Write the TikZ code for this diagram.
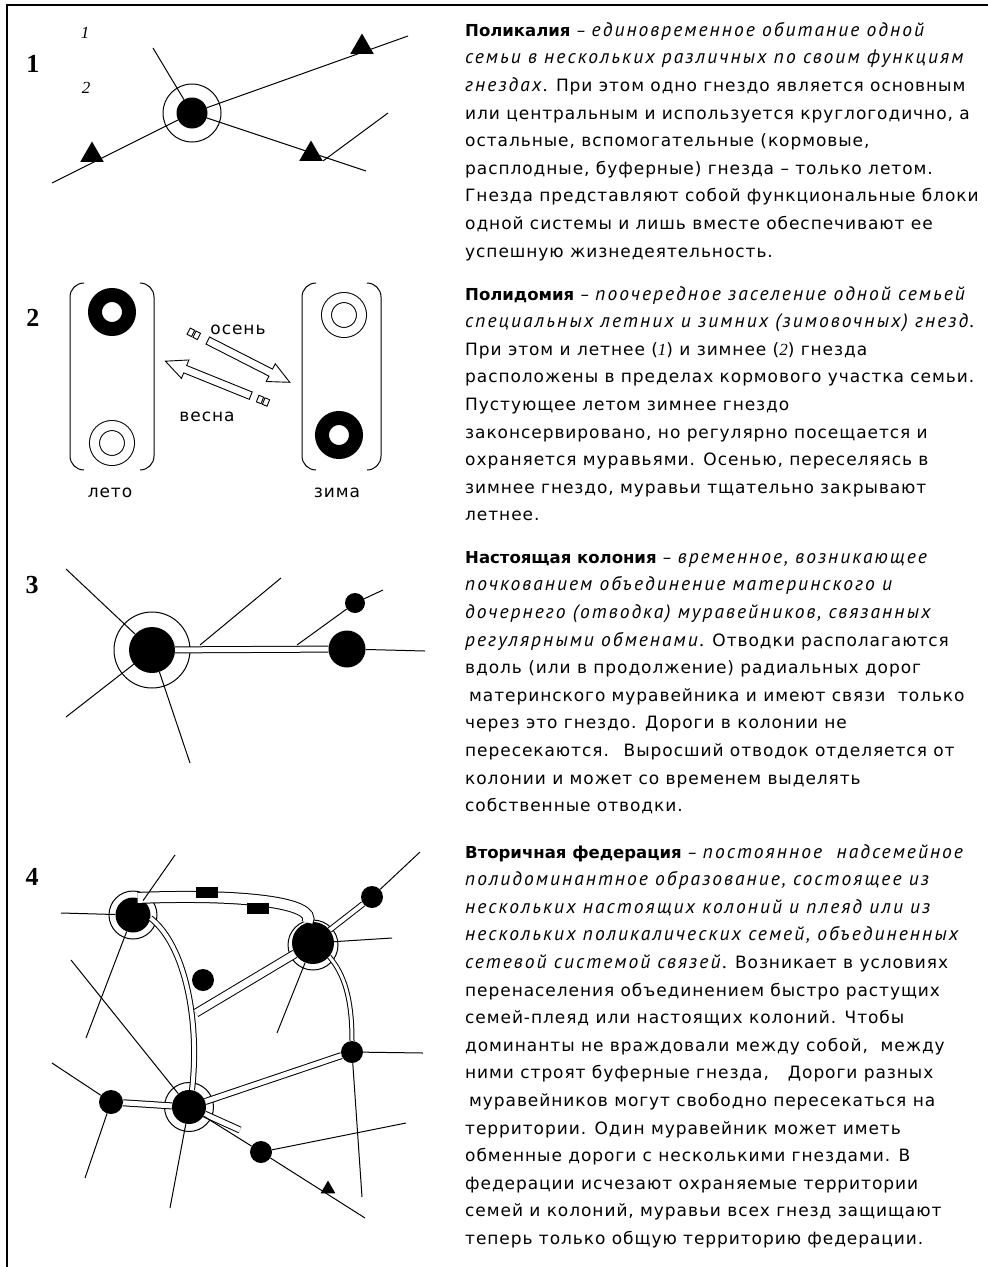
\documentclass[tikz,border=0pt]{standalone}
\usepackage{fontspec}
\usepackage{tikz}
\usetikzlibrary{shapes.geometric, shapes.arrows}
\setmainfont{DejaVu Sans}[LetterSpace=5.5]
\newfontfamily\termfont{DejaVu Sans}
\newfontfamily\cursfont{PT Sans}[LetterSpace=10.5]
\newfontfamily\numfont{Liberation Serif}
\newcommand\term[1]{{\termfont\bfseries\fontsize{16.5}{27.6}\selectfont #1}}
\newcommand\defn[1]{{\cursfont\itshape\fontsize{19.5}{27.6}\selectfont #1}}
\newcommand\num[1]{{\numfont\itshape #1}}

\tikzset{
  nest/.style={circle, fill=black, inner sep=0pt, minimum size=#1},
  ring/.style={circle, draw, line width=1pt, inner sep=0pt, minimum size=#1},
  road/.style={double, double distance=#1, line width=1pt},
  way/.style={line width=1pt},
  tri/.style={regular polygon, regular polygon sides=3, fill=black, inner sep=0pt, minimum size=#1},
  buffer/.style={rectangle, fill=black, inner sep=0pt, minimum width=22pt, minimum height=11pt},
  blackring/.style={circle, draw, line width=14pt, inner sep=0pt, minimum size=34pt},
  twinring/.style={circle, draw, double, double distance=9pt, line width=1pt, inner sep=0pt, minimum size=35pt},
  move/.style={single arrow, draw, line width=0.9pt, inner sep=3.5pt, single arrow head extend=6pt,
    single arrow tip angle=50, minimum height=92pt},
  stub/.style={rectangle, draw, line width=0.9pt, inner sep=0pt, minimum width=5pt, minimum height=7pt},
  para/.style={anchor=north west, align=left, inner sep=0pt, font=\fontsize{17}{27.6}\selectfont},
  panel/.style={font=\numfont\bfseries\fontsize{26}{26}\selectfont},
  word/.style={font=\fontsize{17}{20}\selectfont},
}

\begin{document}
\begin{tikzpicture}[x=1pt, y=-1pt]
  \useasboundingbox (0,0) rectangle (988,1267);
  \draw[line width=2pt] (988,5) -- (7,5) -- (7,1267);

  %Polycaly
  \node[panel] (n1) at (33,64) {1};
  \node[font=\numfont\itshape\fontsize{17}{17}\selectfont] (i1) at (85,33) {1};
  \node[font=\numfont\itshape\fontsize{17}{17}\selectfont] (i2) at (86,88) {2};
  \node[ring=58pt] (home1r) at (192,113) {};
  \node[nest=31pt] (home1) at (192,113) {};
  \coordinate (e1a) at (153,48);
  \coordinate (e1b) at (408,36);
  \coordinate (e1c) at (52,183);
  \coordinate (e1d) at (366,171);
  \coordinate (e1e) at (388,113);
  \draw[way]
    (e1a) edge (home1)
    (e1b) edge (home1)
    (e1c) edge (home1)
    (e1d) edge (home1);
  \node[tri=27pt] (t1) at (362,47) {};
  \node[tri=27pt] (t2) at (92,155) {};
  \node[tri=27pt] (t3) at (311,154) {};
  \draw[way] (t3.corner 3) -- (e1e);

  %Polydomy
  \node[panel] (n2) at (33,318) {2};
  \draw[way, rounded corners=14pt] (84,283) -- (70,283) -- (70,470) -- (84,470);
  \draw[way, rounded corners=14pt] (140,283) -- (154,283) -- (154,470) -- (140,470);
  \draw[way, rounded corners=14pt] (316,283) -- (302,283) -- (302,470) -- (316,470);
  \draw[way, rounded corners=14pt] (367,283) -- (381,283) -- (381,470) -- (367,470);
  \node[blackring] (summer) at (112,312) {};
  \node[twinring] (summer2) at (112,443) {};
  \node[twinring] (winter2) at (344,315) {};
  \node[blackring] (winter) at (339,435) {};
  \node[word] (leto) at (110,493) {лето};
  \node[word] (zima) at (337,493) {зима};
  \node[move, rotate=-27] (autumn) at (245,359.5) {};
  \node[stub, rotate=-27] at (196.7,335.3) {};
  \node[stub, rotate=-27] at (190.9,332.3) {};
  \node[move, rotate=158] (spring) at (212,380) {};
  \node[stub, rotate=158] at (260,399.5) {};
  \node[stub, rotate=158] at (266,402) {};
  \node[word] (osen) at (238,330) {осень};
  \node[word] (vesna) at (207,417) {весна};

  %Colony
  \node[panel] (n3) at (32,585) {3};
  \node[ring=76pt] (home3r) at (152,650) {};
  \node[nest=46pt] (home3) at (152,650) {};
  \node[nest=37pt] (bud3) at (347,649) {};
  \node[nest=20pt] (small3) at (355,603) {};
  \draw[road=5pt] (home3) -- (bud3);
  \coordinate (r3a) at (200,645);
  \coordinate (r3b) at (297,645);
  \coordinate (e3a) at (66,569);
  \coordinate (e3b) at (66,717);
  \coordinate (e3c) at (190,763);
  \coordinate (e3d) at (281,578);
  \coordinate (e3e) at (383,590);
  \coordinate (e3f) at (425,651);
  \draw[way]
    (e3a) edge (home3)
    (e3b) edge (home3)
    (e3c) edge (home3)
    (e3d) edge (r3a)
    (r3b) edge (small3)
    (small3) edge (e3e)
    (bud3) edge (e3f);

  %Federation
  \node[panel] (n4) at (32,877) {4};
  \node[ring=48pt] (Ar) at (133,915) {};
  \node[nest=35pt] (A) at (133,915) {};
  \node[ring=50pt] (Br) at (313,945) {};
  \node[nest=42pt] (B) at (313,943) {};
  \node[ring=49pt] (Cr) at (189,1107) {};
  \node[nest=34pt] (C) at (189,1107) {};
  \node[nest=22pt] (D) at (372,897) {};
  \node[nest=22pt] (E) at (203,980) {};
  \node[nest=22pt] (F) at (352,1052) {};
  \node[nest=24pt] (G) at (111,1102) {};
  \node[nest=22pt] (H) at (261,1152) {};
  \coordinate (j4) at (196,1013);
  \coordinate (q4) at (240,1130);

  \draw[road=10pt] (A.75) .. controls (240,894) and (318,902) .. (B.105);
  \draw[road=4pt] (A.-10) .. controls (185,945) and (200,1020) .. (C.80);
  \draw[road=7pt] (B) -- (j4);
  \draw[road=3pt] (B.-40) .. controls (345,975) and (352,1000) .. (F);
  \draw[road=4pt] (B) -- (D);
  \draw[road=5pt] (C) -- (F);
  \draw[road=5pt] (G) -- (C);
  \draw[road=5pt] (C) -- (q4);
  \node[buffer] (R1) at (207,892) {};
  \node[buffer] (R2) at (258,908) {};

  \coordinate (e4a) at (61,913);
  \coordinate (e4b) at (175,855);
  \coordinate (e4c) at (86,1038);
  \coordinate (e4d) at (71,960);
  \coordinate (e4e) at (392,938);
  \coordinate (e4f) at (277,1033);
  \coordinate (e4g) at (52,1063);
  \coordinate (e4h) at (85,1178);
  \coordinate (e4i) at (170,1208);
  \coordinate (e4j) at (423,1053);
  \coordinate (e4k) at (362,1197);
  \coordinate (e4l) at (406,1123);
  \coordinate (e4m) at (365,1218);
  \coordinate (e4n) at (420,852);
  \draw[way]
    (e4a) edge (A)
    (e4b) edge (A)
    (A) edge (e4c)
    (e4d) edge (C)
    (B) edge (e4e)
    (B) edge (e4f)
    (D) edge (e4n)
    (e4g) edge (G)
    (G) edge (e4h)
    (C) edge (e4i)
    (F) edge (e4j)
    (F) edge (e4k)
    (H) edge (e4l)
    (C) edge (H)
    (H) edge (e4m);
  \node[tri=17pt] (t4) at (328,1189) {};

  % texts
  \node[para] (p1) at (465,22) {\term{Поликалия} – \defn{единовременное обитание одной}\\
    \defn{семьи в нескольких различных по своим функциям}\\
    \defn{гнездах.} При этом одно гнездо является основным\\
    или центральным и используется круглогодично, а\\
    остальные, вспомогательные (кормовые,\\
    расплодные, буферные) гнезда – только летом.\\
    Гнезда представляют собой функциональные блоки\\
    одной системы и лишь вместе обеспечивают ее\\
    успешную жизнедеятельность.};
  \node[para] (p2) at (465,286) {\term{Полидомия} – \defn{поочередное заселение одной семьей}\\
    \defn{специальных летних и зимних (зимовочных) гнезд.}\\
    При этом и летнее (\num{1})  и зимнее (\num{2}) гнезда\\
    расположены в пределах кормового участка семьи.\\
    Пустующее летом зимнее гнездо\\
    законсервировано, но регулярно посещается и\\
    охраняется муравьями. Осенью, переселяясь в\\
    зимнее гнездо, муравьи тщательно закрывают\\
    летнее.};
  \node[para] (p3) at (465,551) {\term{Настоящая колония} – \defn{временное, возникающее}\\
    \defn{почкованием объединение материнского и}\\
    \defn{дочернего (отводка) муравейников, связанных}\\
    \defn{регулярными обменами.} Отводки располагаются\\
    вдоль (или в продолжение) радиальных дорог\\
    \hspace{4pt}материнского муравейника и имеют связи \ только\\
    через это гнездо. Дороги в колонии не\\
    пересекаются. \ Выросший отводок отделяется от\\
    колонии и может со временем выделять\\
    собственные отводки.};
  \node[para] (p4) at (465,844) {\term{Вторичная федерация} – \defn{постоянное \ надсемейное}\\
    \defn{полидоминантное образование, состоящее из}\\
    \defn{нескольких настоящих колоний и плеяд или из}\\
    \defn{нескольких поликалических семей, объединенных}\\
    \defn{сетевой системой связей.} Возникает в условиях\\
    перенаселения объединением быстро растущих\\
    семей-плеяд или настоящих колоний. Чтобы\\
    доминанты не враждовали между собой, \ между\\
    ними строят буферные гнезда, \ \ Дороги разных\\
    \hspace{4pt}муравейников могут свободно пересекаться на\\
    территории. Один муравейник может иметь\\
    обменные дороги с несколькими гнездами. В\\
    федерации исчезают охраняемые территории\\
    семей и колоний, муравьи всех гнезд защищают\\
    теперь только общую территорию федерации.};
\end{tikzpicture}
\end{document}
